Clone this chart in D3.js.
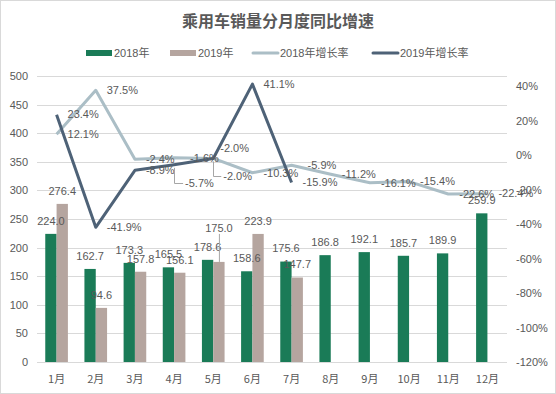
<html>
<head>
    <meta charset="utf-8">
    <script src="https://cdn.jsdelivr.net/npm/d3@7/dist/d3.min.js"></script>
    <style>
        body {
            margin: 0;
            background: white;
        }
        svg {
            font-family: "Liberation Sans", Arial, "Noto Sans CJK SC", sans-serif;
        }
    </style>
</head>
<body>
<svg id="chart"></svg>
<script>
    // chart data
    let months = ["1月", "2月", "3月", "4月", "5月", "6月", "7月", "8月", "9月", "10月", "11月", "12月"];
    let sales2018 = [224.0, 162.7, 173.3, 165.5, 178.6, 158.6, 175.6, 186.8, 192.1, 185.7, 189.9, 259.9];
    let sales2019 = [276.4, 94.6, 157.8, 156.1, 175.0, 223.9, 147.7];
    let growth2018 = [12.1, 37.5, -2.4, -1.6, -2.0, -10.3, -5.9, -11.2, -16.1, -15.4, -22.6, -22.4];
    let growth2019 = [23.4, -41.9, -8.9, -5.7, -2.0, 41.1, -15.9];
    let leftTicks = [0, 50, 100, 150, 200, 250, 300, 350, 400, 450, 500];
    let rightTicks = [-120, -100, -80, -60, -40, -20, 0, 20, 40];
    let seriesNames = ["2018年", "2019年", "2018年增长率", "2019年增长率"];

    let colors = {
        g18: "#1a7b57",
        b19: "#b5a59f",
        l18: "#abbec6",
        l19: "#4e6277",
        text: "#595959",
        grid: "#d9d9d9"
    };

    let width = 556, height = 394;
    let plot = {left: 37, right: 507, top: 76, bottom: 362};

    let svg = d3.select("#chart")
        .attr("width", width)
        .attr("height", height);

    // outer border
    svg.append("rect")
        .attr("x", 0.5).attr("y", 0.5)
        .attr("width", width - 1).attr("height", height - 1)
        .attr("fill", "white")
        .attr("stroke", "#d9d9d9");

    let x = d3.scaleBand().domain(months).range([plot.left, plot.right]);
    let bw = x.bandwidth();
    let xs = d3.scaleBand().domain(["2018", "2019"]).range([0, bw]).paddingOuter(0.73);
    let y = d3.scaleLinear().domain([0, 500]).range([plot.bottom, plot.top]);
    let y2 = d3.scaleLinear().domain([-120, 45.8]).range([plot.bottom, plot.top]);

    // gridlines
    svg.append("g").selectAll("line").data(leftTicks)
        .enter().append("line")
        .attr("x1", plot.left).attr("x2", plot.right)
        .attr("y1", d => Math.round(y(d)) + 0.5).attr("y2", d => Math.round(y(d)) + 0.5)
        .attr("stroke", colors.grid);

    // left axis
    let leftAxis = d3.axisLeft(y).tickValues(leftTicks).tickSize(0).tickPadding(9);
    let gl = svg.append("g").attr("transform", "translate(" + plot.left + ",0)").call(leftAxis);
    gl.select(".domain").remove();
    gl.selectAll("text").attr("fill", colors.text).style("font-size", "11px");

    // right axis
    let rightAxis = d3.axisRight(y2).tickValues(rightTicks).tickSize(0).tickPadding(9)
        .tickFormat(d => d + "%");
    let gr = svg.append("g").attr("transform", "translate(" + plot.right + ",0)").call(rightAxis);
    gr.select(".domain").remove();
    gr.selectAll("text").attr("fill", colors.text).style("font-size", "11px");

    // bottom axis
    let bottomAxis = d3.axisBottom(x).tickSize(0).tickPadding(13);
    let gb = svg.append("g").attr("transform", "translate(0," + plot.bottom + ")").call(bottomAxis);
    gb.select(".domain").remove();
    gb.selectAll("text").attr("fill", colors.text).style("font-size", "11px")
        .style("font-family", "'Noto Sans CJK SC', sans-serif");

    // bars
    let bars18 = sales2018.map((v, i) => ({m: months[i], v: v, s: "2018"}));
    let bars19 = sales2019.map((v, i) => ({m: months[i], v: v, s: "2019"}));

    svg.append("g").selectAll("rect").data(bars18.concat(bars19))
        .enter().append("rect")
        .attr("x", d => x(d.m) + xs(d.s))
        .attr("width", xs.bandwidth())
        .attr("y", d => y(d.v))
        .attr("height", d => y(0) - y(d.v))
        .attr("fill", d => d.s == "2018" ? colors.g18 : colors.b19);

    // bar labels (175.0 is pulled up with a leader line)
    let barLabels = svg.append("g").style("font-size", "11px").attr("fill", colors.text);
    bars18.concat(bars19).forEach(d => {
        let cx = x(d.m) + xs(d.s) + xs.bandwidth() / 2;
        let ty = y(d.v) - 13;
        if (d.s == "2019" && d.m == "5月") {
            ty = y(d.v) - 34;
            svg.append("line")
                .attr("x1", cx + 0.5).attr("x2", cx + 0.5)
                .attr("y1", ty + 6).attr("y2", y(d.v))
                .attr("stroke", "#a6a6a6");
        }
        barLabels.append("text")
            .attr("x", cx).attr("y", ty).attr("dy", "0.35em")
            .attr("text-anchor", "middle")
            .text(d.v.toFixed(1));
    });

    // growth lines
    let line = d3.line()
        .x((d, i) => x(months[i]) + bw / 2)
        .y(d => y2(d));

    svg.append("path").datum(growth2018)
        .attr("d", line).attr("fill", "none")
        .attr("stroke", colors.l18).attr("stroke-width", 3).attr("stroke-linejoin", "round");
    svg.append("path").datum(growth2019)
        .attr("d", line).attr("fill", "none")
        .attr("stroke", colors.l19).attr("stroke-width", 3).attr("stroke-linejoin", "round");

    // line labels, placed right of point; a few were moved by hand
    let moved = {
        "2018-3": {dx: 16, dy: 0},
        "2018-6": {dx: 16, dy: 0},
        "2018-4": {dx: 7, dy: -10},
        "2019-4": {dx: 10, dy: 18, leader: true},
        "2019-3": {dx: 11, dy: 18, leader: true}
    };
    let lineLabels = svg.append("g").style("font-size", "11px").attr("fill", colors.text);
    function addLineLabels(values, key) {
        values.forEach((v, i) => {
            let px = x(months[i]) + bw / 2;
            let py = y2(v);
            let m = moved[key + "-" + i] || {dx: 11, dy: 0};
            if (m.leader) {
                svg.append("path")
                    .attr("d", "M" + (Math.round(px) + 0.5) + "," + (py + 3) +
                        "V" + (Math.round(py + m.dy) + 0.5) + "H" + (px + m.dx - 2))
                    .attr("fill", "none")
                    .attr("stroke", "#a6a6a6");
            }
            lineLabels.append("text")
                .attr("x", px + m.dx).attr("y", py + m.dy).attr("dy", "0.35em")
                .text(v.toFixed(1) + "%");
        });
    }
    addLineLabels(growth2018, "2018");
    addLineLabels(growth2019, "2019");

    // title
    svg.append("text")
        .attr("x", 278).attr("y", 21).attr("dy", "0.35em")
        .attr("text-anchor", "middle")
        .attr("fill", colors.text)
        .style("font-family", "'Noto Sans CJK SC', sans-serif")
        .style("font-size", "16px")
        .style("font-weight", "bold")
        .text("乘用车销量分月度同比增速");

    // legend
    let legendX = [86, 170, 252, 372];
    let legendColors = [colors.g18, colors.b19, colors.l18, colors.l19];
    let legend = svg.append("g").selectAll("g").data(seriesNames)
        .enter().append("g")
        .attr("transform", (d, i) => "translate(" + legendX[i] + ",53)");
    legend.each(function (d, i) {
        let g = d3.select(this);
        if (i < 2) {
            g.append("rect").attr("x", 0).attr("y", -3).attr("width", 26).attr("height", 6)
                .attr("fill", legendColors[i]);
        } else {
            g.append("line").attr("x1", 1).attr("x2", 26).attr("y1", 0).attr("y2", 0)
                .attr("stroke", legendColors[i]).attr("stroke-width", 3).attr("stroke-linecap", "round");
        }
        g.append("text").attr("x", 28).attr("dy", "0.35em")
            .attr("fill", colors.text)
            .style("font-size", "11px")
            .style("font-family", "'Liberation Sans', 'Noto Sans CJK SC', sans-serif")
            .text(d);
    });
</script>
</body>
</html>
